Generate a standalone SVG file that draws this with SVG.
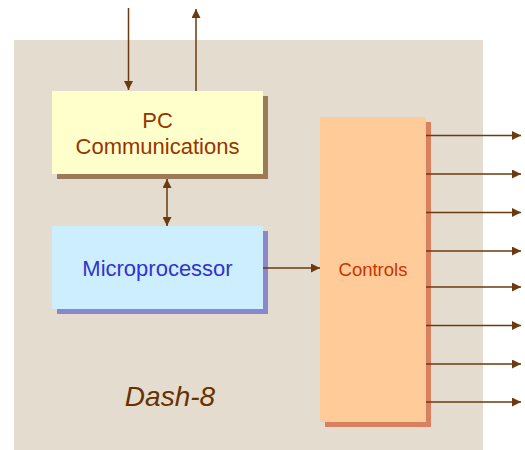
<svg xmlns="http://www.w3.org/2000/svg" width="525" height="450" viewBox="0 0 525 450">
<defs>
<marker id="ah" viewBox="0 0 10 10" refX="10" refY="5" markerWidth="9" markerHeight="9" markerUnits="userSpaceOnUse" orient="auto-start-reverse">
<path d="M0,0 L10,5 L0,10 Z" fill="#6b3a0e"/>
</marker>
</defs>
<style>
.c{stroke:#6b3a0e;stroke-width:1.5;fill:none;marker-end:url(#ah)}
.t{font-family:"Liberation Sans",Arial,sans-serif;text-anchor:middle}
</style>
<rect x="14" y="40" width="469" height="410" fill="#e4dccf"/>
<g id="pc">
<rect x="57" y="96" width="211" height="83" fill="#9c7a58"/>
<rect x="52" y="91" width="211" height="83" fill="#ffffcc"/>
<text class="t" x="157.5" y="128" font-size="22" fill="#993300">PC</text>
<text class="t" x="157.5" y="154" font-size="22" fill="#993300">Communications</text>
</g>
<g id="micro">
<rect x="57" y="231" width="211" height="83" fill="#8a88cc"/>
<rect x="52" y="226" width="211" height="83" fill="#cceeff"/>
<text class="t" x="157.5" y="276" font-size="22" fill="#3333cc">Microprocessor</text>
</g>
<g id="controls">
<rect x="325" y="122" width="106" height="305" fill="#d9805f"/>
<rect x="320" y="117" width="106" height="305" fill="#ffcc99"/>
<text class="t" x="373" y="276" font-size="18.5" fill="#cc3300">Controls</text>
</g>
<g id="label">
<text class="t" x="170" y="406" font-size="28" font-style="italic" fill="#663300">Dash-8</text>
</g>
<g id="connectors">
<line class="c" x1="128.5" y1="8" x2="128.5" y2="90"/>
<line class="c" x1="196" y1="91" x2="196" y2="9"/>
<line class="c" x1="167" y1="179" x2="167" y2="226" style="marker-start:url(#ah)"/>
<line class="c" x1="263" y1="268" x2="320" y2="268"/>
<line class="c" x1="426" y1="135.5" x2="521" y2="135.5"/>
<line class="c" x1="426" y1="174" x2="521" y2="174"/>
<line class="c" x1="426" y1="212.5" x2="521" y2="212.5"/>
<line class="c" x1="426" y1="251" x2="521" y2="251"/>
<line class="c" x1="426" y1="287" x2="521" y2="287"/>
<line class="c" x1="426" y1="325.5" x2="521" y2="325.5"/>
<line class="c" x1="426" y1="364" x2="521" y2="364"/>
<line class="c" x1="426" y1="402" x2="521" y2="402"/>
</g>
</svg>
